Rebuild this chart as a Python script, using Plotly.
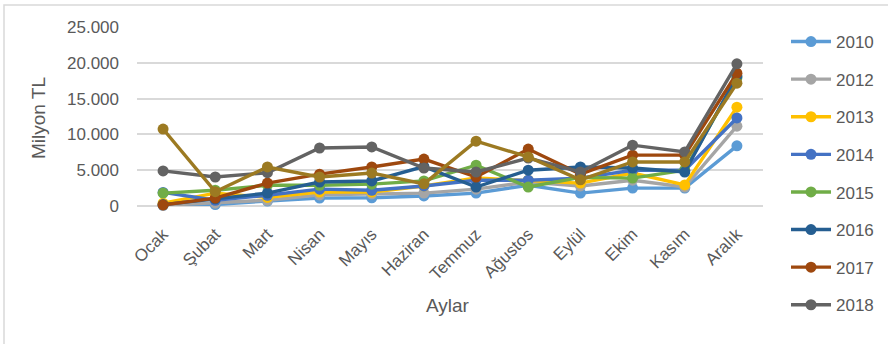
import plotly.graph_objects as go

months = ["Ocak", "Şubat", "Mart", "Nisan", "Mayıs", "Haziran",
          "Temmuz", "Ağustos", "Eylül", "Ekim", "Kasım", "Aralık"]

v2010 = [100, 200, 700, 1100, 1150, 1400, 1800, 2900, 1800, 2500, 2500, 8400]
v2012 = [100, 400, 800, 1550, 1700, 1800, 2350, 3350, 2800, 3600, 2650, 11150]
v2013 = [400, 1800, 1200, 1950, 1950, 2800, 3900, 3600, 3200, 4600, 2950, 13800]
v2014 = [1900, 800, 1500, 2350, 2200, 2800, 3600, 3600, 3900, 5000, 5000, 12300]
v2015 = [1800, 2200, 2900, 2900, 3050, 3500, 5700, 2650, 4000, 3900, 5000, 17900]
v2016 = [200, 1000, 1800, 3350, 3500, 5500, 2650, 5000, 5450, 5300, 4750, 18150]
v2017 = [150, 1100, 3200, 4450, 5450, 6550, 4050, 7950, 4450, 7100, 7100, 18550]
v2018 = [4900, 4050, 4650, 8100, 8250, 5300, 4750, 6700, 4750, 8500, 7550, 19850]
v2019 = [10750, 2000, 5450, 4050, 4600, 3100, 9050, 6850, 3650, 6150, 6150, 17150]

series = [
    ("2010", v2010, "#5B9BD5", True),
    ("2012", v2012, "#A5A5A5", True),
    ("2013", v2013, "#FFC000", True),
    ("2014", v2014, "#4472C4", True),
    ("2015", v2015, "#70AD47", True),
    ("2016", v2016, "#255E91", True),
    ("2017", v2017, "#9E480E", True),
    ("2018", v2018, "#636363", True),
    ("2019", v2019, "#9C7A22", False),
]

W, H = 888, 344
ML, MR, MT, MB = 137, 125, 27, 138
PW, PH = W - ML - MR, H - MT - MB

def px_x(p):
    return (p - ML) / PW

def px_y(p):
    return (H - MB - p) / PH

TXT = "#595959"
FONT = "Liberation Sans, Arial, sans-serif"

fig = go.Figure()
for name, vals, color, inleg in series:
    fig.add_trace(go.Scatter(
        x=months, y=vals, name=name, mode="lines+markers",
        line=dict(color=color, width=3.4),
        marker=dict(color=color, size=11),
        legendgroup=name, showlegend=inleg, cliponaxis=False,
    ))

fig.update_layout(
    width=W, height=H,
    margin=dict(l=ML, r=MR, t=MT, b=MB, autoexpand=False),
    paper_bgcolor="white", plot_bgcolor="white",
    font=dict(family=FONT, color=TXT, size=17),
    showlegend=True,
    legend=dict(
        x=px_x(786), xanchor="left",
        yref="container", y=1 - 24 / H, yanchor="top",
        font=dict(size=17, color=TXT), tracegroupgap=12.5,
        itemwidth=40, bgcolor="rgba(0,0,0,0)", maxheight=1,
    ),
    xaxis=dict(
        type="category", range=[-0.5, 11.5], tickangle=-45,
        showgrid=False, showline=False, zeroline=False,
        tickfont=dict(size=17, color=TXT), ticklabelstandoff=14,
    ),
    yaxis=dict(
        range=[0, 25000], tickvals=[0, 5000, 10000, 15000, 20000, 25000],
        ticktext=["0", "5.000", "10.000", "15.000", "20.000", "25.000"],
        showgrid=True, gridcolor="#D9D9D9", gridwidth=1.5,
        zeroline=True, zerolinecolor="#D9D9D9", zerolinewidth=1.5,
        tickfont=dict(size=17, color=TXT), ticklabelstandoff=17,
    ),
    shapes=[dict(
        type="rect", xref="paper", yref="paper",
        x0=px_x(4), x1=px_x(893), y0=px_y(350), y1=px_y(5),
        line=dict(color="#D9D9D9", width=1.5), fillcolor="rgba(0,0,0,0)",
        layer="below",
    )],
    annotations=[
        dict(text="Milyon TL", xref="paper", yref="paper",
             x=px_x(38), y=px_y(118), textangle=-90, showarrow=False,
             font=dict(size=19, color=TXT), xanchor="center", yanchor="middle"),
        dict(text="Aylar", xref="paper", yref="paper",
             x=px_x(448), y=px_y(305), showarrow=False,
             font=dict(size=19, color=TXT), xanchor="center", yanchor="middle"),
    ],
)

fig.write_html("out.html")
